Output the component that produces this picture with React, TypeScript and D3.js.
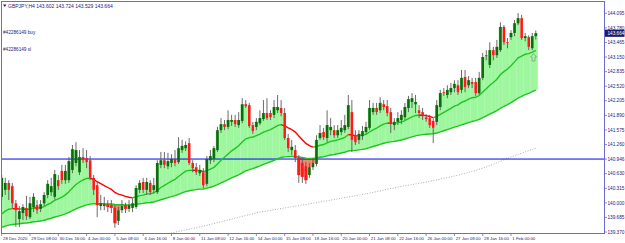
import * as d3 from "d3";

// GBPJPY H4 candles: open, high, low, close
const candles: [number, number, number, number][] = [
  [140.13, 140.60, 140.06, 140.54], [140.28, 140.54, 140.17, 140.43], [140.43, 140.49, 140.06, 140.28], [140.36, 140.43, 139.89, 139.99],
  [139.99, 140.06, 139.48, 139.84], [139.65, 139.93, 139.48, 139.82], [139.78, 139.97, 139.63, 139.91], [139.89, 140.15, 139.63, 139.71],
  [139.69, 140.13, 139.65, 139.99], [139.91, 140.21, 139.80, 140.13], [139.95, 140.06, 139.76, 139.84], [139.87, 140.06, 139.80, 139.97],
  [139.99, 140.23, 139.93, 140.17], [140.17, 140.49, 140.10, 140.41], [140.23, 140.54, 140.15, 140.36], [140.13, 140.71, 140.08, 140.62],
  [140.49, 140.60, 140.28, 140.36], [140.69, 140.82, 140.41, 140.49], [140.49, 140.82, 140.41, 140.69], [140.49, 140.99, 140.43, 140.90],
  [140.71, 141.25, 140.64, 141.16], [140.86, 141.31, 140.79, 141.14], [140.66, 141.14, 140.60, 140.99], [140.99, 141.18, 140.86, 140.92],
  [140.97, 141.14, 140.75, 140.88], [140.92, 141.01, 140.49, 140.54], [140.54, 140.60, 140.17, 140.28], [140.38, 140.45, 139.69, 139.95],
  [139.93, 140.17, 139.84, 139.99], [139.93, 140.13, 139.84, 139.97], [139.97, 140.06, 139.80, 139.91], [139.95, 140.06, 139.78, 139.89],
  [139.89, 139.95, 139.46, 139.56], [139.61, 139.91, 139.52, 139.84], [139.84, 140.06, 139.78, 139.93], [139.95, 140.00, 139.78, 139.87],
  [139.87, 140.06, 139.80, 139.95], [139.89, 140.10, 139.80, 139.99], [139.91, 140.38, 139.87, 140.32], [140.28, 140.49, 140.21, 140.43],
  [140.45, 140.54, 140.21, 140.28], [140.28, 140.54, 140.17, 140.45], [140.43, 140.49, 140.17, 140.23], [140.28, 140.54, 140.21, 140.38],
  [140.23, 140.92, 140.19, 140.86], [140.82, 141.10, 140.75, 140.92], [140.92, 141.10, 140.75, 140.82], [140.79, 141.08, 140.73, 140.90],
  [140.86, 141.05, 140.77, 140.95], [140.95, 141.14, 140.79, 140.86], [140.88, 141.42, 140.84, 141.18], [141.14, 141.36, 141.08, 141.23],
  [141.18, 141.33, 141.12, 141.25], [141.29, 141.40, 140.82, 140.86], [140.86, 140.92, 140.66, 140.75], [140.77, 140.86, 140.60, 140.66],
  [140.64, 140.82, 140.58, 140.71], [140.66, 140.75, 140.32, 140.38], [140.41, 141.01, 140.36, 140.95], [140.92, 141.14, 140.84, 141.01],
  [140.95, 141.23, 140.88, 141.18], [141.14, 141.64, 141.10, 141.57], [141.57, 141.83, 141.51, 141.70], [141.70, 141.79, 141.57, 141.64],
  [141.64, 142.00, 141.59, 141.79], [141.75, 141.90, 141.66, 141.79], [141.79, 141.90, 141.64, 141.70], [141.68, 141.96, 141.62, 141.79],
  [141.77, 142.26, 141.72, 142.13], [142.13, 142.22, 142.05, 142.09], [142.11, 142.16, 141.62, 141.66], [141.68, 141.75, 141.49, 141.55],
  [141.64, 141.83, 141.57, 141.75], [141.72, 142.00, 141.68, 141.83], [141.81, 142.22, 141.77, 141.94], [141.94, 142.26, 141.79, 141.83],
  [141.94, 142.00, 141.79, 141.85], [141.90, 142.22, 141.83, 142.07], [142.00, 142.33, 141.94, 142.07], [142.05, 142.22, 141.87, 141.94],
  [141.94, 142.05, 141.36, 141.40], [141.40, 141.49, 141.10, 141.18], [141.14, 141.36, 141.03, 141.21], [141.14, 141.25, 140.88, 140.97],
  [140.97, 141.03, 140.43, 140.60], [140.86, 140.92, 140.43, 140.56], [140.79, 140.88, 140.41, 140.49], [140.60, 140.86, 140.54, 140.77],
  [140.77, 140.97, 140.71, 140.86], [140.84, 141.46, 140.79, 141.36], [141.40, 141.68, 141.36, 141.51], [141.53, 141.62, 141.36, 141.42],
  [141.40, 142.00, 141.31, 141.68], [141.57, 141.83, 141.46, 141.64], [141.57, 141.68, 141.40, 141.46], [141.46, 141.68, 141.40, 141.57],
  [141.53, 141.79, 141.46, 141.62], [141.57, 141.90, 141.51, 141.68], [141.64, 142.33, 141.59, 142.11], [141.96, 142.22, 141.10, 141.36],
  [141.46, 141.57, 141.25, 141.31], [141.36, 141.57, 141.27, 141.49], [141.44, 141.66, 141.36, 141.55], [141.53, 141.75, 141.49, 141.64],
  [141.62, 142.22, 141.57, 142.05], [141.96, 142.16, 141.90, 142.05], [142.05, 142.16, 141.90, 141.96], [142.00, 142.28, 141.94, 142.16],
  [142.13, 142.22, 142.00, 142.07], [142.09, 142.22, 141.87, 141.94], [141.96, 142.05, 141.51, 141.70], [141.68, 141.83, 141.57, 141.75],
  [141.75, 141.96, 141.68, 141.83], [141.79, 142.00, 141.70, 141.90], [141.85, 142.16, 141.79, 142.07], [142.05, 142.31, 141.96, 142.24],
  [142.18, 142.37, 142.05, 142.26], [142.13, 142.33, 141.94, 142.18], [142.00, 142.11, 141.83, 141.94], [141.96, 142.05, 141.79, 141.87],
  [141.85, 141.92, 141.75, 141.81], [141.83, 141.90, 141.62, 141.68], [141.77, 141.83, 141.29, 141.62], [141.75, 142.22, 141.68, 142.11],
  [142.07, 142.44, 142.00, 142.37], [142.39, 142.48, 142.31, 142.37], [142.33, 142.54, 142.26, 142.44], [142.39, 142.59, 142.33, 142.48],
  [142.48, 142.65, 142.39, 142.57], [142.54, 142.65, 142.33, 142.39], [142.44, 142.87, 142.37, 142.70], [142.72, 142.87, 142.39, 142.50],
  [142.54, 142.74, 142.48, 142.65], [142.61, 142.70, 142.48, 142.57], [142.61, 142.70, 142.31, 142.37], [142.37, 142.83, 142.33, 142.70],
  [142.70, 143.24, 142.65, 143.15], [143.19, 143.30, 143.08, 143.17], [142.98, 143.47, 142.91, 143.30], [143.30, 143.37, 143.08, 143.19],
  [143.19, 143.52, 143.13, 143.37], [143.30, 143.90, 143.26, 143.80], [143.80, 143.84, 143.41, 143.47], [143.47, 143.56, 143.34, 143.45],
  [143.58, 143.73, 143.52, 143.67], [143.67, 143.95, 143.60, 143.88], [143.88, 144.10, 143.84, 143.99], [143.99, 144.06, 143.52, 143.56],
  [143.56, 143.67, 143.49, 143.60], [143.58, 143.62, 143.30, 143.37], [143.34, 143.67, 143.30, 143.60], [143.602, 143.724, 143.529, 143.664],
];

const timeLabels = [
  "28 Dec 2020", "29 Dec 08:00", "30 Dec 16:00", "4 Jan 00:00", "5 Jan 08:00", "6 Jan 16:00", "8 Jan 00:00",
  "11 Jan 08:00", "12 Jan 16:00", "14 Jan 00:00", "15 Jan 08:00", "18 Jan 16:00", "20 Jan 00:00", "21 Jan 08:00",
  "22 Jan 16:00", "26 Jan 00:00", "27 Jan 08:00", "28 Jan 16:00", "1 Feb 00:00",
];
const labelEvery = 8;

const priceTicks = [
  "144.095", "143.780", "143.465", "143.150", "142.835", "142.520", "142.205", "141.890",
  "141.575", "141.260", "140.946", "140.630", "140.315", "140.000", "139.685", "139.370",
];

const lastPrice = 143.664;
const orderLevel = 140.946;
const title = "GBPJPY,H4  143.602 143.724 143.529 143.664";
const orderLabels = ["#42286149 buy", "#42286149 sl"];

// long moving average: [bar, price]
const longMA: [number, number][] = [
  [40, 139.2], [48, 139.35], [56, 139.48], [64, 139.63], [72, 139.78], [80, 139.89], [88, 139.99],
  [96, 140.1], [104, 140.21], [112, 140.34], [120, 140.45], [128, 140.58], [136, 140.75], [144, 140.99], [151, 141.18],
];

const fastPeriod = 21;
const slowPeriod = 70;
const fastStart = 139.76;
const slowStart = 139.47;

function ema(values: number[], period: number, start: number) {
  const k = 2 / (period + 1);
  const out: number[] = [];
  let v = start;
  values.forEach((c, i) => {
    v = i === 0 ? start : v + k * (c - v);
    out.push(v);
  });
  return out;
}

const W = 625;
const H = 243;
const frame = { left: 1.5, top: 1.5, right: 604.5, bottom: 233.5 };
const axisColor = "#6b6bd0";
const textColor = "#23237a";
const font = "Liberation Sans, Arial, sans-serif";

export default function App() {
  const n = candles.length;
  const x = d3.scaleLinear().domain([0, n - 1]).range([1.7, 1.7 + (n - 1) * 3.537]);
  const y = d3.scaleLinear().domain([139.37, 144.095]).range([232, 13.3]);
  const step = x(1) - x(0);

  const closes = candles.map((d) => d[3]);
  const fast = ema(closes, fastPeriod, fastStart);
  const slow = ema(closes, slowPeriod, slowStart);

  const line = d3.line<[number, number]>().x((d) => x(d[0])).y((d) => y(d[1]));

  // split the fast line into green / red runs
  const runs: { color: string; pts: [number, number][] }[] = [];
  for (let i = 1; i < n; i++) {
    const color = closes[i] < fast[i] ? "#ff0000" : "#22c422";
    const last = runs[runs.length - 1];
    if (last && last.color === color) last.pts.push([i, fast[i]]);
    else runs.push({ color, pts: [[i - 1, fast[i - 1]], [i, fast[i]]] });
  }

  const slowPath = line(slow.map((v, i) => [i, v] as [number, number])) || "";
  const longPath =
    d3.line<[number, number]>().x((d) => x(d[0])).y((d) => y(d[1])).curve(d3.curveMonotoneX)(longMA) || "";

  return (
    <svg
      width={W}
      height={H}
      style={{ position: "fixed", left: 0, top: 0, background: "#fff" }}
      fontFamily={font}
    >
      <defs>
        <clipPath id="plot">
          <rect x={frame.left} y={frame.top} width={frame.right - frame.left} height={frame.bottom - frame.top} />
        </clipPath>
      </defs>
      <rect width={W} height={H} fill="#fff" />

      <g clipPath="url(#plot)">
        {/* histogram fill between close and slow average */}
        {candles.map((d, i) => {
          const c = d[3];
          const s = slow[i];
          return (
            <rect
              key={"f" + i}
              x={x(i) - step / 2}
              width={step + 0.2}
              y={y(Math.max(c, s))}
              height={Math.abs(y(c) - y(s))}
              fill={c >= s ? "#9ef79e" : "#f4806e"}
            />
          );
        })}

        <path d={longPath} fill="none" stroke="#9a9a9a" strokeWidth={0.8} strokeDasharray="1 1.6" />

        <line x1={frame.left} x2={frame.right} y1={y(orderLevel)} y2={y(orderLevel)} stroke="#0000ff" strokeWidth={1} />

        <path d={slowPath} fill="none" stroke="#22c422" strokeWidth={1.4} />
        {runs.map((r, i) => (
          <path key={"r" + i} d={line(r.pts) || ""} fill="none" stroke={r.color} strokeWidth={1.4} />
        ))}

        {candles.map((d, i) => {
          const [o, h, l, c] = d;
          const up = c >= o;
          const top = y(Math.max(o, c));
          const bh = Math.max(0.8, Math.abs(y(o) - y(c)));
          return (
            <g key={"c" + i}>
              <line x1={x(i)} x2={x(i)} y1={y(h)} y2={y(l)} stroke="#5a5a5a" strokeWidth={0.9} />
              <rect x={x(i) - 1.3} width={2.6} y={top} height={bh} fill={up ? "#0d6a0d" : "#ff1a1a"} />
            </g>
          );
        })}

        {/* trade arrow */}
        <path
          d="M533.5,53.5 L536.5,57 L535,57 L535,61 L532,61 L532,57 L530.5,57 Z"
          fill="none"
          stroke="#7a9a7a"
          strokeWidth={0.7}
        />
      </g>

      {/* frame */}
      <rect
        x={frame.left}
        y={frame.top}
        width={frame.right - frame.left}
        height={frame.bottom - frame.top}
        fill="none"
        stroke={axisColor}
        strokeWidth={1}
      />

      {/* header */}
      <path d="M3,4.5 L6.5,4.5 L4.75,7 Z" fill={textColor} />
      <text x={8} y={7.5} fontSize={5} fill={textColor}>{title}</text>
      <text x={3} y={34} fontSize={4.7} fill={textColor}>{orderLabels[0]}</text>
      <text x={3} y={51} fontSize={4.7} fill={textColor}>{orderLabels[1]}</text>

      {/* price axis */}
      {priceTicks.map((t) => (
        <g key={t}>
          <line x1={frame.right} x2={frame.right + 2.5} y1={y(+t)} y2={y(+t)} stroke={axisColor} strokeWidth={0.8} />
          <text x={607.5} y={y(+t) + 1.7} fontSize={4.7} fill={textColor}>{t}</text>
        </g>
      ))}
      <rect x={605} y={y(lastPrice) - 3.6} width={19.5} height={7.2} fill="#1b1b6e" />
      <text x={607.5} y={y(lastPrice) + 1.7} fontSize={4.7} fill="#fff">{lastPrice.toFixed(3)}</text>

      {/* time axis */}
      {timeLabels.map((t, k) => {
        const xi = x(k * labelEvery);
        return (
          <g key={t}>
            <line x1={xi} x2={xi} y1={frame.bottom} y2={frame.bottom + 2.5} stroke={axisColor} strokeWidth={0.8} />
            <text x={xi + 1.3} y={239.8} fontSize={4.3} fill={textColor}>{t}</text>
          </g>
        );
      })}
    </svg>
  );
}
